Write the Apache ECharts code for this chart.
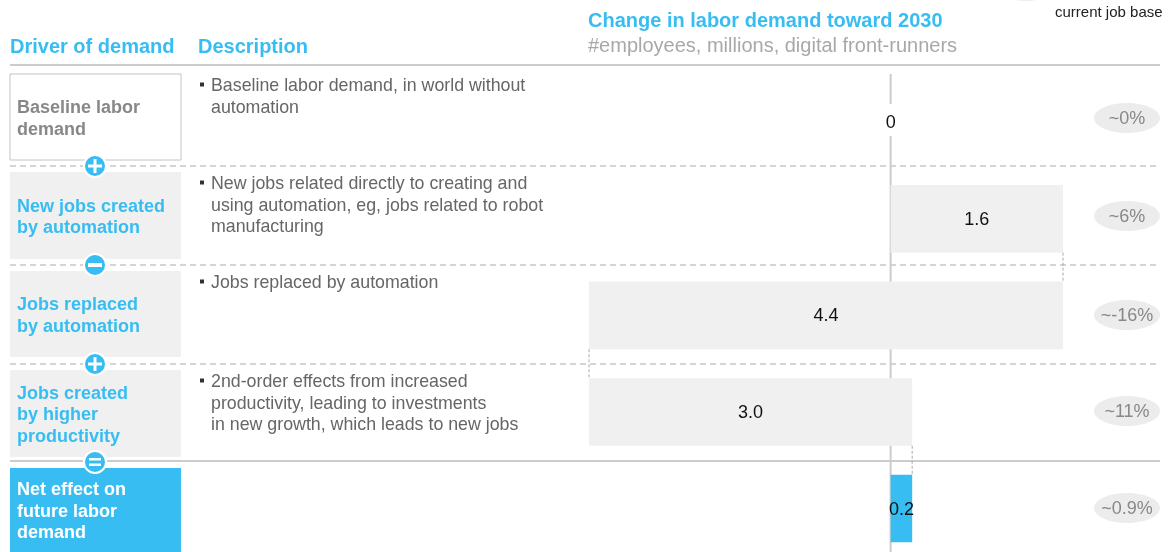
<!DOCTYPE html>
<html>
<head>
<meta charset="utf-8">
<script src="https://cdn.jsdelivr.net/npm/echarts@6/dist/echarts.min.js"></script>
<style>
html, body { margin: 0; padding: 0; background: #fff; }
#chart { width: 1173px; height: 552px; }
</style>
</head>
<body>
<div id="chart"></div>
<script>
var drivers = ['Baseline labor\ndemand', 'New jobs created\nby automation', 'Jobs replaced\nby automation', 'Jobs created\nby higher\nproductivity', 'Net effect on\nfuture labor\ndemand'];
var descriptions = [
	['Baseline labor demand, in world without', 'automation'],
	['New jobs related directly to creating and', 'using automation, eg, jobs related to robot', 'manufacturing'],
	['Jobs replaced by automation'],
	['2nd-order effects from increased', 'productivity, leading to investments', 'in new growth, which leads to new jobs'],
	[]
];
var changes = [0, 1.6, -4.4, 3.0];
var netValue = 0.2;
var shares = ['~0%', '~6%', '~-16%', '~11%', '~0.9%'];
var signs = ['+', '-', '+', '='];

var BLUE = '#38bdf2';
var FONT = '"Liberation Sans", Arial, sans-serif';

// waterfall pieces: [row, low, high, running total]
var barData = [];
var barLabels = [];
var total = 0;
changes.forEach(function(v, i) {
	var next = total + v;
	if (v !== 0) {
		barData.push([i, Math.min(total, next), Math.max(total, next), next]);
		barLabels.push(Math.abs(v).toFixed(1));
	}
	total = next;
});
barData.push([4, 0, netValue, netValue]);
barLabels.push(netValue.toFixed(1));

var chart = echarts.init(document.getElementById('chart'));

function renderBar(params, api) {
	var row = api.value(0);
	var a = api.coord([api.value(1), row]);
	var b = api.coord([api.value(2), row]);
	var band = api.size([0, 1])[1];
	var h = band * 0.7;
	var isNet = row === 4;
	var kids = [{
		type: 'rect',
		shape: { x: a[0], y: a[1] - h / 2, width: b[0] - a[0], height: h },
		style: { fill: isNet ? BLUE : '#eff0ef' }
	}, {
		type: 'text',
		x: (a[0] + b[0]) / 2,
		y: a[1] + 1,
		style: { text: barLabels[params.dataIndex], fill: '#111', font: '18px ' + FONT, align: 'center', verticalAlign: 'middle' }
	}];
	if (!isNet) {
		var t = api.coord([api.value(3), row]);
		kids.push({
			type: 'line',
			shape: { x1: t[0], y1: a[1] + h / 2, x2: t[0], y2: a[1] + band - h / 2 },
			style: { stroke: '#aaa', lineWidth: 1, lineDash: [3, 2] }
		});
	}
	return { type: 'group', children: kids };
}

chart.setOption({
	animation: false,
	grid: { left: 589, width: 474, top: 74, bottom: 0 },
	xAxis: { type: 'value', min: -2.8, max: 1.6, show: false },
	// rows sit at integer positions 0..4
	yAxis: { type: 'value', min: -0.5, max: 4.45, inverse: true, show: false },
	series: [{
		type: 'custom',
		renderItem: renderBar,
		encode: { x: [1, 2], y: 0 },
		data: barData,
		z: 5
	}]
});

var x0 = chart.convertToPixel({ xAxisIndex: 0 }, 0);
var g = [];

function text(x, y, str, font, fill, extra) {
	var st = { text: str, font: font, fill: fill, verticalAlign: 'middle' };
	for (var k in extra) st[k] = extra[k];
	g.push({ type: 'text', x: x, y: y + 1, style: st, z: 10 });
}

// headers
text(10, 46, 'Driver of demand', 'bold 20px ' + FONT, BLUE);
text(198, 46, 'Description', 'bold 20px ' + FONT, BLUE);
text(588, 20, 'Change in labor demand toward 2030', 'bold 20px ' + FONT, BLUE);
text(588, 45, '#employees, millions, digital front-runners', '20px ' + FONT, '#a8a8a8');
g.push({ type: 'ellipse', shape: { cx: 1026, cy: -14, rx: 30, ry: 15 }, style: { fill: '#ececec' } });
text(1055, 12, 'current job base', '15px ' + FONT, '#222');

// rules
g.push({ type: 'line', shape: { x1: 10, y1: 65, x2: 1160, y2: 65 }, style: { stroke: '#ccc', lineWidth: 2 } });
g.push({ type: 'line', shape: { x1: 10, y1: 461, x2: 1160, y2: 461 }, style: { stroke: '#bbb', lineWidth: 1.5 } });
[166, 265, 364].forEach(function(y) {
	g.push({ type: 'line', shape: { x1: 10, y1: y, x2: 1160, y2: y }, style: { stroke: '#aaa', lineWidth: 1, lineDash: [6, 4] } });
});

// zero axis
g.push({ type: 'line', shape: { x1: x0, y1: 74, x2: x0, y2: 104 }, style: { stroke: '#ccc', lineWidth: 2 } });
g.push({ type: 'line', shape: { x1: x0, y1: 136, x2: x0, y2: 552 }, style: { stroke: '#ccc', lineWidth: 2 } });
text(x0, 122, '0', '18px ' + FONT, '#111', { align: 'center' });

// left column, descriptions, shares
var boxTop = [74, 172, 271, 370, 468];
var boxH = [86, 87, 86, 87, 84];
var shareY = [118, 216, 315, 411, 508];
drivers.forEach(function(d, i) {
	var fill = i === 0 ? '#fff' : (i === 4 ? BLUE : '#eff0ef');
	g.push({
		type: 'rect',
		shape: { x: 10, y: boxTop[i], width: 171, height: boxH[i] },
		style: { fill: fill, stroke: i === 0 ? '#c4c4c4' : null, lineWidth: 1 }
	});
	var lines = d.split('\n');
	var cy = boxTop[i] + boxH[i] / 2 + 1;
	var color = i === 0 ? '#888' : (i === 4 ? '#fff' : BLUE);
	lines.forEach(function(l, j) {
		text(17, cy + (j - (lines.length - 1) / 2) * 21.5, l, 'bold 18px ' + FONT, color);
	});
	descriptions[i].forEach(function(l, j) {
		var y = boxTop[i] + 11.5 + j * 21.5;
		if (j === 0) g.push({ type: 'rect', shape: { x: 200, y: y - 3, width: 4, height: 4 }, style: { fill: '#333' } });
		text(211, y, l, '17.8px ' + FONT, '#666');
	});
	g.push({ type: 'ellipse', shape: { cx: 1127, cy: shareY[i], rx: 33, ry: 15 }, style: { fill: '#ececec' } });
	text(1127, shareY[i], shares[i], '18px ' + FONT, '#888', { align: 'center' });
});

// operator circles
var signY = [166, 265, 364, 462];
signs.forEach(function(s, i) {
	var cx = 95, cy = signY[i];
	var kids = [{ type: 'circle', shape: { cx: cx, cy: cy, r: 11 }, style: { fill: BLUE, stroke: '#fff', lineWidth: 2 } }];
	var w = { fill: '#fff' };
	if (s === '+') {
		kids.push({ type: 'rect', shape: { x: cx - 7, y: cy - 1.5, width: 14, height: 3 }, style: w });
		kids.push({ type: 'rect', shape: { x: cx - 1.5, y: cy - 7, width: 3, height: 14 }, style: w });
	} else if (s === '-') {
		kids.push({ type: 'rect', shape: { x: cx - 7, y: cy - 2, width: 14, height: 4 }, style: w });
	} else {
		kids.push({ type: 'rect', shape: { x: cx - 6, y: cy - 4, width: 12, height: 2.5 }, style: w });
		kids.push({ type: 'rect', shape: { x: cx - 6, y: cy + 1.5, width: 12, height: 2.5 }, style: w });
	}
	g.push({ type: 'group', z: 12, children: kids });
});

chart.setOption({ graphic: g });
</script>
</body>
</html>
